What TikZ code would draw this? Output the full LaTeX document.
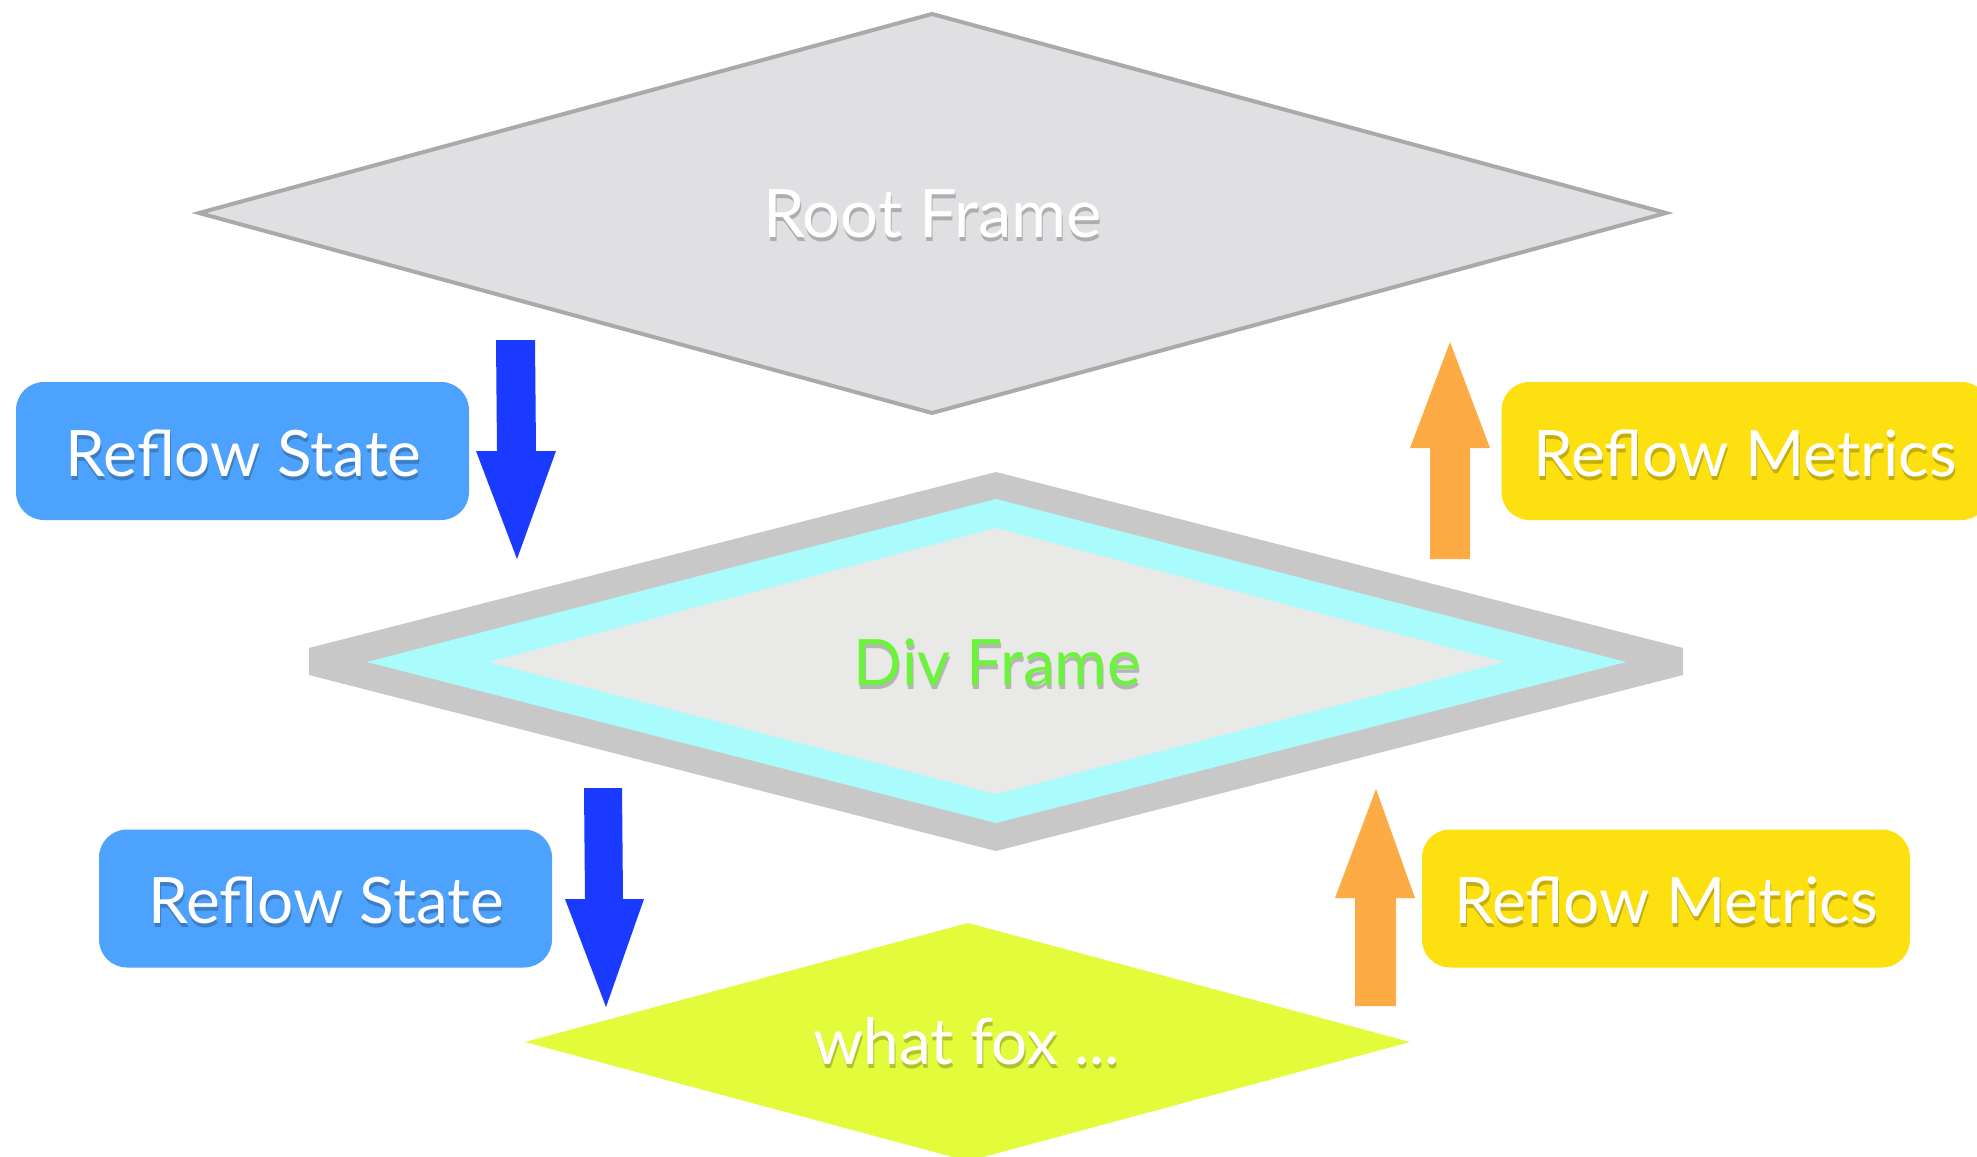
\documentclass[tikz,border=0pt]{standalone}
\usepackage{fontspec}
\setmainfont{Lato}
\usetikzlibrary{calc}

\definecolor{rootfill}{HTML}{E0DFE2}
\definecolor{rootline}{HTML}{AAAAAA}
\definecolor{divouter}{HTML}{C8C8C8}
\definecolor{divcyan}{HTML}{AAFCFC}
\definecolor{divinner}{HTML}{E9E9E8}
\definecolor{divtext}{HTML}{6CF43C}
\definecolor{stateblue}{HTML}{4CA2FD}
\definecolor{downblue}{HTML}{1A3AFF}
\definecolor{metricyellow}{HTML}{FDE010}
\definecolor{uporange}{HTML}{FDAB45}
\definecolor{leaflime}{HTML}{E2FB3A}

\tikzset{
  labeltext/.style={font=\fontsize{64}{72}\selectfont, inner sep=0pt, anchor=base},
  bigtext/.style={font=\fontsize{67}{76}\selectfont},
  roundbox/.style={rectangle, rounded corners=28pt, inner sep=0pt,
                   minimum height=138pt},
  statebox/.style={roundbox, fill=stateblue, minimum width=453pt},
  metricbox/.style={roundbox, fill=metricyellow, minimum width=488pt},
  downarrow/.style={fill=downblue},
  uparrow/.style={fill=uporange},
}

% text with a drop shadow: #1 name, #2 baseline point, #3 colour, #4 extra style, #5 text
\newcommand{\softlabel}[5]{%
  \node[labeltext, #4, text=black, opacity=0.22] (#1-shadow) at ($(#2)+(1,4)$) {#5};
  \node[labeltext, #4, text=#3] (#1) at (#2) {#5};
}

\begin{document}
\begin{tikzpicture}[x=1pt,y=-1pt]
\useasboundingbox (0,0) rectangle (1977,1156);
\clip (0,0) rectangle (1977,1156);
\fill[white] (0,0) rectangle (1977,1156);

% root frame
\filldraw[fill=rootfill, draw=rootline, line width=4pt, line join=miter]
  (932,14) -- (1666,213) -- (932,413) -- (199,213) -- cycle;
\softlabel{root}{932.5,237}{white}{bigtext}{Root Frame}

% div frame: grey slab, cyan border, light face
\fill[divouter] (996,472) -- (1683,648) -- (1683,675) -- (996,851)
  -- (309,675) -- (309,648) -- cycle;
\fill[divcyan] (996,499) -- (1626,662) -- (996,823) -- (367,662) -- cycle;
\fill[divinner] (996,528) -- (1504,662) -- (996,794) -- (489,662) -- cycle;
\softlabel{div}{997.5,685}{divtext}{}{Div Frame}

% leaf text frame
\fill[leaflime] (968,923) -- (1410,1042) -- (968,1161) -- (525,1042) -- cycle;
\softlabel{leaf}{966.5,1064}{white}{}{what fox ...}

% reflow state boxes
\node[statebox] (state1) at (242.5,451) {};
\softlabel{state1-text}{243.5,476}{white}{}{Reflow State}
\node[statebox] (state2) at (325.5,898.5) {};
\softlabel{state2-text}{326,923}{white}{}{Reflow State}

% reflow metrics boxes
\node[metricbox] (metric1) at (1745.5,451) {};
\softlabel{metric1-text}{1745,476}{white}{}{Reflow Metrics}
\node[metricbox] (metric2) at (1666,898.5) {};
\softlabel{metric2-text}{1666,923}{white}{}{Reflow Metrics}

% downward block arrows
\fill[downarrow] (496,340) -- (535,340) -- (536,451) -- (556,451)
  -- (517,559) -- (476,451) -- (497,451) -- cycle;
\fill[downarrow] (584,788) -- (622,788) -- (623,899) -- (644,899)
  -- (606,1007) -- (565,899) -- (585,899) -- cycle;

% upward block arrows
\fill[uparrow] (1430,559) -- (1470,559) -- (1470,448) -- (1490,448)
  -- (1450,342) -- (1410,448) -- (1430,448) -- cycle;
\fill[uparrow] (1355,1006) -- (1396,1006) -- (1396,898) -- (1415,898)
  -- (1376,789) -- (1335,898) -- (1355,898) -- cycle;
\end{tikzpicture}
\end{document}
